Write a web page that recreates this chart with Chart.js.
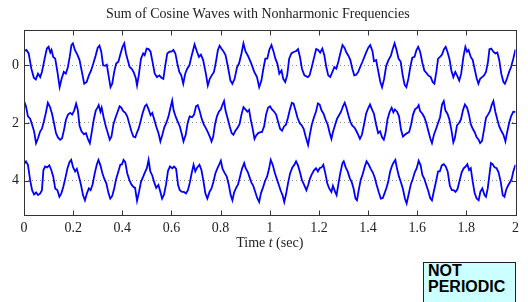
<!DOCTYPE html>
<html>
<head>
<meta charset="utf-8">
<script src="https://cdn.jsdelivr.net/npm/chart.js@4.4.1/dist/chart.umd.min.js"></script>
<style>
    html, body { margin: 0; padding: 0; background: #fff; }
    #wrap { position: relative; width: 528px; height: 302px; overflow: hidden; }
    #note {
        position: absolute; left: 423px; top: 262px; width: 93px; height: 50px;
        box-sizing: border-box; border: 1px solid #222; background: #ccffff;
        padding: 0 0 0 4px; color: #000;
        font: bold 16px "Liberation Sans", Arial, sans-serif; line-height: 16px;
    }
</style>
</head>
<body>
<div id="wrap">
    <canvas id="myChart" width="528" height="302"></canvas>
    <div id="note">NOT<br>PERIODIC</div>
</div>
<script>
// Strip offsets (top to bottom) and the y ticks shown.
const stripOffsets = [0, 2, 4];
const yTickValues = [0, 2, 4];

// Each strip: [time (sec), deviation from its offset].
const waveA = [
    [0, -0.49], [0.010, -0.53], [0.019, -0.41], [0.030, 0.12], [0.040, 0.43], [0.048, 0.49], [0.057, 0.29], [0.066, 0.41],
    [0.073, 0.23], [0.084, -0.23], [0.093, -0.58], [0.100, -0.64], [0.107, -0.44], [0.112, -0.53], [0.119, -0.29], [0.127, -0.23],
    [0.136, 0.23], [0.145, 0.76], [0.153, 0.47], [0.162, 0.23], [0.170, 0.29], [0.178, 0.09], [0.186, -0.29], [0.193, -0.70],
    [0.199, -0.76], [0.207, -0.53], [0.218, -0.35], [0.226, -0.18], [0.237, 0.29], [0.245, 0.64], [0.255, 0.58], [0.264, 0.35],
    [0.273, 0.18], [0.282, -0.06], [0.292, -0.35], [0.300, -0.61], [0.307, -0.68], [0.314, -0.49], [0.322, 0], [0.330, 0.02],
    [0.337, -0.02], [0.344, 0.35], [0.352, 0.76], [0.359, 0.64], [0.367, 0.23], [0.375, -0.06], [0.384, -0.12], [0.393, -0.41],
    [0.401, -0.64], [0.408, -0.76], [0.415, -0.41], [0.422, -0.18], [0.430, 0.06], [0.438, 0.12], [0.446, 0.23], [0.455, 0.45],
    [0.460, 0.70], [0.467, 0.35], [0.476, -0.23], [0.485, -0.41], [0.491, -0.35], [0.499, -0.58], [0.507, -0.56], [0.515, -0.47],
    [0.523, -0.12], [0.532, 0.29], [0.541, 0.41], [0.551, 0.35], [0.559, 0.43], [0.567, 0.47], [0.575, 0], [0.583, -0.41],
    [0.592, -0.47], [0.600, -0.47], [0.608, -0.53], [0.616, -0.41], [0.624, -0.06], [0.632, 0.23], [0.640, 0.35], [0.648, 0.64],
    [0.656, 0.29], [0.664, 0.12], [0.673, 0], [0.681, -0.29], [0.694, -0.72], [0.704, -0.47], [0.712, -0.29], [0.720, -0.37],
    [0.729, -0.18], [0.740, 0.29], [0.748, 0.70], [0.756, 0.47], [0.764, 0.35], [0.773, 0.23], [0.781, -0.12], [0.789, -0.53],
    [0.796, -0.68], [0.803, -0.58], [0.811, -0.49], [0.820, -0.35], [0.830, 0.06], [0.840, 0.53], [0.848, 0.64], [0.857, 0.47],
    [0.867, 0.06], [0.875, -0.06], [0.885, -0.41], [0.893, -0.76], [0.901, -0.49], [0.911, -0.33], [0.923, -0.10], [0.937, 0.23],
    [0.948, 0.41], [0.957, 0.76], [0.966, 0.53], [0.974, 0.12], [0.982, -0.23], [0.990, -0.23], [0.998, -0.53], [1.007, -0.70],
    [1.015, -0.49], [1.023, -0.23], [1.031, -0.06], [1.039, 0.29], [1.048, 0.18], [1.055, 0.47], [1.063, 0.58], [1.071, 0.35],
    [1.079, -0.23], [1.088, -0.41], [1.099, -0.47], [1.107, -0.49], [1.115, -0.56], [1.123, -0.29], [1.131, 0.12], [1.141, 0.35],
    [1.155, 0.41], [1.162, 0.35], [1.171, 0.06], [1.181, -0.29], [1.189, -0.56], [1.197, -0.53], [1.205, -0.44], [1.214, -0.58],
    [1.222, -0.35], [1.230, 0.06], [1.238, 0.35], [1.246, 0.41], [1.255, 0.23], [1.263, 0.06], [1.271, 0.12], [1.279, -0.12],
    [1.287, -0.41], [1.296, -0.70], [1.304, -0.61], [1.312, -0.44], [1.320, -0.33], [1.328, -0.18], [1.336, 0.12], [1.344, 0.35],
    [1.352, 0.33], [1.360, 0.23], [1.368, 0.06], [1.378, -0.14], [1.392, -0.44], [1.401, -0.61], [1.409, -0.70], [1.418, -0.49],
    [1.424, -0.14], [1.433, -0.18], [1.442, 0.23], [1.450, 0.58], [1.457, 0.76], [1.465, 0.49], [1.474, 0.02], [1.483, -0.18],
    [1.493, -0.33], [1.501, -0.58], [1.508, -0.76], [1.516, -0.53], [1.524, -0.23], [1.533, -0.12], [1.541, 0.35], [1.549, 0.68],
    [1.556, 0.76], [1.564, 0.47], [1.572, 0.06], [1.580, -0.26], [1.589, -0.29], [1.597, -0.53], [1.604, -0.64], [1.612, -0.47],
    [1.621, -0.09], [1.629, 0.18], [1.637, 0.26], [1.645, 0.35], [1.655, 0.41], [1.663, 0.58], [1.670, 0.64], [1.678, 0.23],
    [1.685, -0.23], [1.693, -0.29], [1.701, -0.37], [1.709, -0.56], [1.716, -0.64], [1.723, -0.47], [1.731, -0.23], [1.739, 0.18],
    [1.747, 0.41], [1.755, 0.23], [1.763, 0.37], [1.771, 0.53], [1.779, 0.29], [1.788, -0.29], [1.796, -0.64], [1.803, -0.47],
    [1.809, -0.53], [1.818, -0.29], [1.826, -0.18], [1.834, 0.14], [1.842, 0.45], [1.849, 0.64], [1.856, 0.47], [1.864, 0.41],
    [1.872, 0.35], [1.880, 0.23], [1.888, -0.12], [1.894, -0.56], [1.901, -0.58], [1.910, -0.47], [1.918, -0.41], [1.926, -0.44],
    [1.934, -0.18], [1.942, 0.29], [1.951, 0.58], [1.957, 0.64], [1.966, 0.44], [1.974, 0.23], [1.982, 0.06], [1.991, -0.23],
    [2.0, -0.55]
];

const waveB = [
    [0, -0.76], [0.008, -0.58], [0.016, -0.23], [0.025, -0.15], [0.033, 0.06], [0.041, 0.29], [0.049, 0.70], [0.057, 0.53],
    [0.066, 0.29], [0.073, 0.20], [0.081, -0.06], [0.089, -0.35], [0.097, -0.70], [0.106, -0.55], [0.114, -0.32], [0.122, 0],
    [0.130, 0.35], [0.138, 0.50], [0.147, 0.58], [0.155, 0.53], [0.163, 0.23], [0.171, -0.12], [0.179, -0.29], [0.188, -0.35],
    [0.196, -0.29], [0.204, -0.43], [0.212, -0.67], [0.219, -0.45], [0.226, 0.10], [0.234, 0.29], [0.244, 0.39], [0.252, 0.35],
    [0.260, 0.55], [0.268, 0.70], [0.275, 0.35], [0.284, -0.12], [0.292, -0.43], [0.299, -0.53], [0.304, -0.62], [0.311, -0.39],
    [0.316, -0.53], [0.324, -0.20], [0.333, 0.12], [0.341, 0.35], [0.349, 0.58], [0.356, 0.47], [0.364, 0.04], [0.373, -0.20],
    [0.381, -0.39], [0.389, -0.58], [0.396, -0.53], [0.404, -0.41], [0.412, -0.35], [0.420, -0.23], [0.429, 0.04], [0.437, 0.29],
    [0.445, 0.47], [0.453, 0.50], [0.459, 0.35], [0.467, 0.18], [0.475, -0.08], [0.483, -0.35], [0.492, -0.58], [0.499, -0.64],
    [0.507, -0.47], [0.515, -0.27], [0.522, -0.35], [0.530, -0.12], [0.538, 0.12], [0.547, 0.35], [0.555, 0.64], [0.563, 0.41],
    [0.571, 0.15], [0.579, 0], [0.588, -0.23], [0.596, -0.53], [0.603, -0.78], [0.609, -0.43], [0.618, -0.20], [0.626, -0.04],
    [0.634, 0.12], [0.641, 0.35], [0.649, 0.64], [0.658, 0.41], [0.666, 0], [0.674, -0.23], [0.684, -0.20], [0.692, -0.29],
    [0.700, -0.58], [0.707, -0.62], [0.715, -0.41], [0.723, -0.15], [0.731, 0.04], [0.740, 0.18], [0.748, 0.32], [0.756, 0.47],
    [0.763, 0.64], [0.770, 0.47], [0.777, 0.06], [0.785, -0.23], [0.793, -0.39], [0.801, -0.47], [0.808, -0.64], [0.814, -0.76],
    [0.820, -0.43], [0.829, -0.15], [0.837, 0.12], [0.845, 0.35], [0.852, 0.41], [0.860, 0.27], [0.868, 0.18], [0.877, 0.04],
    [0.885, -0.29], [0.893, -0.55], [0.901, -0.47], [0.909, -0.39], [0.916, -0.45], [0.923, -0.10], [0.930, 0.18], [0.938, 0.55],
    [0.945, 0.43], [0.953, 0.35], [0.962, 0.32], [0.968, 0.32], [0.977, 0.12], [0.985, -0.29], [0.993, -0.53], [1.001, -0.58],
    [1.009, -0.47], [1.018, -0.39], [1.026, -0.29], [1.034, -0.04], [1.042, 0.20], [1.050, 0.27], [1.058, 0.12], [1.066, 0.06],
    [1.074, -0.18], [1.082, -0.47], [1.090, -0.70], [1.097, -0.67], [1.105, -0.43], [1.113, -0.18], [1.122, 0.01], [1.130, 0.08],
    [1.138, 0.20], [1.146, 0.47], [1.156, 0.76], [1.163, 0.41], [1.171, 0.06], [1.180, -0.20], [1.188, -0.39], [1.196, -0.68],
    [1.203, -0.64], [1.211, -0.43], [1.219, -0.32], [1.227, -0.12], [1.236, 0.06], [1.244, 0.35], [1.251, 0.55], [1.257, 0.32],
    [1.266, 0.06], [1.274, -0.15], [1.282, -0.27], [1.290, -0.39], [1.298, -0.58], [1.305, -0.70], [1.312, -0.53], [1.320, -0.27],
    [1.328, -0.04], [1.336, 0.09], [1.344, 0.15], [1.352, 0.27], [1.360, 0.41], [1.367, 0.55], [1.375, 0.41], [1.383, 0.08],
    [1.392, -0.32], [1.400, -0.50], [1.408, -0.64], [1.416, -0.47], [1.424, -0.32], [1.433, 0.06], [1.441, 0.35], [1.449, 0.29],
    [1.457, 0.50], [1.464, 0.58], [1.471, 0.35], [1.479, -0.12], [1.488, -0.39], [1.496, -0.53], [1.503, -0.37], [1.509, -0.47],
    [1.518, -0.39], [1.526, -0.23], [1.534, 0.23], [1.542, 0.47], [1.550, 0.41], [1.559, 0.35], [1.567, 0.32], [1.575, 0.06],
    [1.583, -0.29], [1.591, -0.47], [1.600, -0.53], [1.606, -0.62], [1.612, -0.41], [1.621, -0.32], [1.629, -0.20], [1.637, 0],
    [1.645, 0.27], [1.653, 0.53], [1.660, 0.70], [1.668, 0.41], [1.677, 0.20], [1.685, 0], [1.693, -0.20], [1.701, -0.64],
    [1.708, -0.76], [1.715, -0.43], [1.723, -0.32], [1.731, -0.12], [1.739, 0.23], [1.747, 0.67], [1.753, 0.53], [1.762, 0.08],
    [1.770, 0], [1.778, -0.12], [1.786, -0.43], [1.794, -0.64], [1.803, -0.53], [1.811, -0.27], [1.818, 0.04], [1.826, 0.20],
    [1.834, 0.32], [1.842, 0.50], [1.850, 0.58], [1.856, 0.70], [1.864, 0.62], [1.872, 0.23], [1.880, -0.18], [1.888, -0.29],
    [1.896, -0.41], [1.903, -0.62], [1.910, -0.76], [1.918, -0.39], [1.926, -0.12], [1.934, 0.12], [1.942, 0.27], [1.951, 0.41],
    [1.959, 0.64], [1.966, 0.32], [1.974, 0], [1.982, -0.23], [1.991, -0.39], [2.0, -0.38]
];

const waveC = [
    [0, -0.57], [0.008, -0.67], [0.016, -0.55], [0.025, -0.02], [0.033, 0.33], [0.041, 0.48], [0.049, 0.41], [0.057, 0.50],
    [0.066, 0.44], [0.073, 0.33], [0.079, -0.37], [0.086, -0.49], [0.094, -0.46], [0.103, -0.53], [0.111, -0.37], [0.119, -0.14],
    [0.127, 0.27], [0.136, 0.33], [0.144, 0.56], [0.152, 0.44], [0.160, 0.21], [0.168, -0.08], [0.177, -0.43], [0.185, -0.64],
    [0.192, -0.72], [0.200, -0.46], [0.208, -0.32], [0.215, -0.41], [0.223, -0.15], [0.232, 0.15], [0.240, 0.50], [0.248, 0.68],
    [0.256, 0.44], [0.264, 0.27], [0.271, 0.33], [0.279, 0.13], [0.288, -0.26], [0.296, -0.55], [0.303, -0.72], [0.311, -0.53],
    [0.319, -0.26], [0.327, -0.06], [0.335, 0.09], [0.344, 0.44], [0.351, 0.62], [0.359, 0.53], [0.367, 0.27], [0.375, -0.06],
    [0.384, -0.32], [0.392, -0.55], [0.399, -0.57], [0.405, -0.72], [0.412, -0.64], [0.420, -0.26], [0.429, -0.02], [0.437, 0.13],
    [0.445, 0.21], [0.452, 0.25], [0.460, 0.70], [0.468, 0.39], [0.476, 0.04], [0.485, -0.14], [0.492, -0.29], [0.500, -0.43],
    [0.507, -0.72], [0.514, -0.32], [0.522, -0.18], [0.530, 0.06], [0.538, 0.25], [0.547, 0.15], [0.555, 0.39], [0.562, 0.62],
    [0.570, 0.48], [0.578, 0.13], [0.586, -0.34], [0.594, -0.49], [0.603, -0.43], [0.611, -0.49], [0.619, -0.41], [0.627, 0.15],
    [0.634, 0.33], [0.643, 0.39], [0.651, 0.39], [0.659, 0.44], [0.667, 0.33], [0.675, 0.06], [0.682, -0.25], [0.690, -0.55],
    [0.697, -0.32], [0.705, -0.46], [0.714, -0.55], [0.722, -0.37], [0.730, 0.01], [0.738, 0.44], [0.746, 0.62], [0.755, 0.39],
    [0.763, 0.27], [0.771, 0.04], [0.779, -0.26], [0.787, -0.43], [0.795, -0.57], [0.801, -0.69], [0.808, -0.41], [0.817, -0.26],
    [0.825, -0.14], [0.833, 0.13], [0.841, 0.50], [0.848, 0.68], [0.855, 0.41], [0.863, 0.25], [0.871, 0.13], [0.879, -0.14],
    [0.887, -0.41], [0.896, -0.61], [0.902, -0.43], [0.911, -0.29], [0.917, -0.14], [0.925, 0.06], [0.933, 0.18], [0.941, 0.39],
    [0.949, 0.60], [0.957, 0.74], [0.964, 0.44], [0.972, 0.25], [0.981, 0.01], [0.989, -0.14], [0.997, -0.41], [1.004, -0.72],
    [1.012, -0.55], [1.020, -0.29], [1.028, -0.08], [1.037, 0.15], [1.045, 0.36], [1.052, 0.50], [1.059, 0.74], [1.067, 0.44],
    [1.075, 0.06], [1.083, -0.26], [1.092, -0.46], [1.100, -0.55], [1.107, -0.67], [1.115, -0.53], [1.123, -0.29], [1.131, -0.02],
    [1.139, 0.13], [1.149, 0.33], [1.157, 0.13], [1.164, -0.08], [1.171, -0.22], [1.180, -0.36], [1.188, -0.43], [1.196, -0.32],
    [1.203, -0.43], [1.211, -0.46], [1.218, -0.55], [1.226, -0.26], [1.234, 0.09], [1.242, 0.27], [1.251, 0.39], [1.257, 0.18],
    [1.266, 0.39], [1.272, 0.50], [1.279, 0.13], [1.287, -0.26], [1.296, -0.61], [1.301, -0.67], [1.309, -0.46], [1.317, -0.32],
    [1.326, -0.08], [1.334, 0.06], [1.341, 0.27], [1.349, 0.62], [1.355, 0.68], [1.362, 0.33], [1.370, -0.02], [1.378, -0.22],
    [1.387, -0.50], [1.394, -0.67], [1.403, -0.55], [1.411, -0.41], [1.419, -0.29], [1.427, -0.11], [1.435, 0.15], [1.444, 0.41],
    [1.452, 0.62], [1.460, 0.60], [1.467, 0.44], [1.474, 0.27], [1.482, 0.04], [1.490, -0.32], [1.499, -0.55], [1.505, -0.64],
    [1.511, -0.72], [1.518, -0.41], [1.526, -0.14], [1.534, 0.06], [1.542, 0.29], [1.550, 0.62], [1.557, 0.79], [1.565, 0.48],
    [1.574, 0.13], [1.582, -0.06], [1.590, -0.29], [1.598, -0.43], [1.606, -0.69], [1.614, -0.53], [1.621, -0.20], [1.629, -0.06],
    [1.637, 0.15], [1.645, 0.36], [1.653, 0.60], [1.660, 0.68], [1.668, 0.36], [1.677, 0.01], [1.685, -0.32], [1.692, -0.32],
    [1.700, -0.53], [1.708, -0.57], [1.716, -0.49], [1.724, -0.32], [1.733, 0.18], [1.741, 0.33], [1.748, 0.33], [1.756, 0.39],
    [1.764, 0.29], [1.773, -0.02], [1.781, -0.29], [1.789, -0.43], [1.797, -0.49], [1.804, -0.57], [1.811, -0.37], [1.818, -0.43],
    [1.826, 0.04], [1.834, 0.44], [1.842, 0.62], [1.850, 0.68], [1.857, 0.39], [1.865, 0.27], [1.874, 0.50], [1.880, 0.56],
    [1.887, 0.27], [1.893, -0.14], [1.900, -0.61], [1.907, -0.57], [1.915, -0.46], [1.923, -0.43], [1.931, -0.29], [1.940, 0.04],
    [1.948, 0.50], [1.955, 0.56], [1.963, 0.29], [1.971, 0.15], [1.979, 0.04], [1.985, -0.08], [1.991, -0.32], [2.0, -0.55]
];

const strips = [waveA, waveB, waveC];

// Box frame, inward tick marks and the x-axis label with an italic t.
const framePlugin = {
    id: 'frame',
    afterDraw(chart) {
        const { ctx, chartArea: area, scales: { x, y } } = chart;
        const left = Math.round(area.left) + 0.5;
        const right = Math.round(area.right) + 0.5;
        const top = Math.round(area.top) + 0.5;
        const bottom = Math.round(area.bottom) + 0.5;

        ctx.save();
        ctx.strokeStyle = '#333';
        ctx.lineWidth = 1;
        ctx.strokeRect(left, top, right - left, bottom - top);

        ctx.beginPath();
        x.ticks.forEach(tick => {
            const px = Math.round(x.getPixelForValue(tick.value)) + 0.5;
            ctx.moveTo(px, bottom); ctx.lineTo(px, bottom - 5);
            ctx.moveTo(px, top); ctx.lineTo(px, top + 5);
        });
        y.ticks.forEach(tick => {
            const py = Math.round(y.getPixelForValue(tick.value)) + 0.5;
            ctx.moveTo(left, py); ctx.lineTo(left + 5, py);
            ctx.moveTo(right, py); ctx.lineTo(right - 5, py);
        });
        ctx.stroke();

        const parts = [['Time ', ''], ['t', 'italic '], [' (sec)', '']];
        ctx.fillStyle = '#222';
        ctx.textBaseline = 'middle';
        ctx.textAlign = 'left';
        const widths = parts.map(([text, style]) => {
            ctx.font = style + '14px "Liberation Serif", "Times New Roman", serif';
            return ctx.measureText(text).width;
        });
        let cursor = (area.left + area.right) / 2 - widths.reduce((a, b) => a + b, 0) / 2;
        parts.forEach(([text, style], i) => {
            ctx.font = style + '14px "Liberation Serif", "Times New Roman", serif';
            ctx.fillText(text, cursor, 243);
            cursor += widths[i];
        });
        ctx.restore();
    }
};

const serif = { family: '"Liberation Serif", "Times New Roman", serif', size: 14 };

const chart = new Chart(document.getElementById('myChart'), {
    type: 'line',
    data: {
        datasets: strips.map((wave, i) => ({
            data: wave.map(([t, d]) => ({ x: t, y: stripOffsets[i] + d })),
            borderColor: '#0000ff',
            borderWidth: 1.8,
            pointRadius: 0,
            tension: 0,
            fill: false
        }))
    },
    options: {
        responsive: false,
        animation: false,
        devicePixelRatio: 1,
        layout: { padding: { top: 0, right: 12.5, bottom: 0, left: 0 } },
        plugins: {
            legend: { display: false },
            tooltip: { enabled: false },
            title: {
                display: true,
                text: 'Sum of Cosine Waves with Nonharmonic Frequencies',
                color: '#222',
                font: { ...serif, weight: 'normal', lineHeight: 1.2 },
                padding: { top: 6, bottom: 6.7 }
            }
        },
        scales: {
            x: {
                type: 'linear',
                min: 0,
                max: 2,
                afterFit: scale => { scale.height = 87; },
                grid: { display: false, drawTicks: false },
                border: { display: false },
                ticks: {
                    stepSize: 0.2,
                    padding: 5,
                    autoSkip: false,
                    maxRotation: 0,
                    color: '#222',
                    font: serif,
                    callback: value => String(Math.round(value * 10) / 10)
                }
            },
            y: {
                type: 'linear',
                reverse: true,
                min: -1.24,
                max: 5.19,
                afterFit: scale => { scale.width = 24; },
                afterBuildTicks: scale => { scale.ticks = yTickValues.map(v => ({ value: v })); },
                grid: { color: '#8c8c8c', lineWidth: 1, drawTicks: false },
                border: { display: false, dash: [1, 3] },
                ticks: { padding: 5, color: '#222', font: serif }
            }
        }
    },
    plugins: [framePlugin]
});
</script>
</body>
</html>
